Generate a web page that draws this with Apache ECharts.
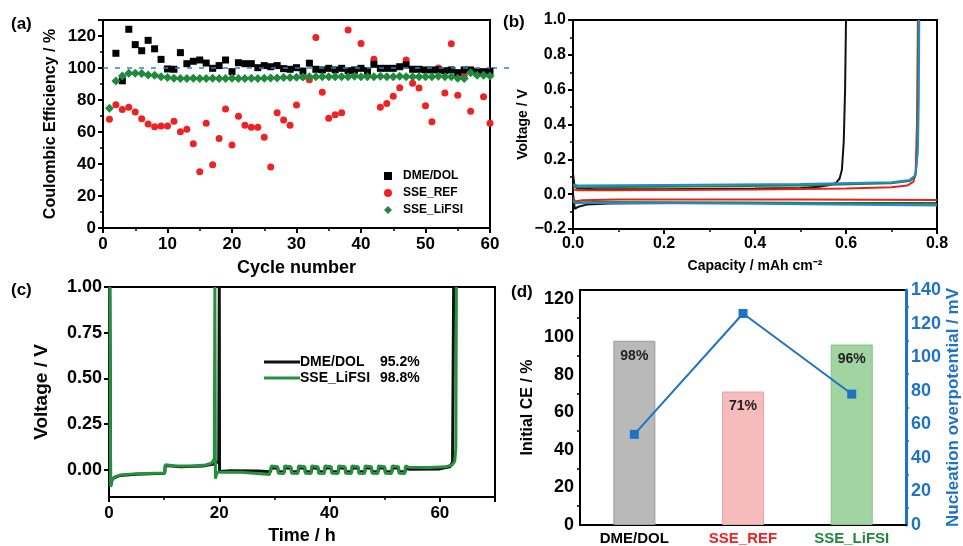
<!DOCTYPE html>
<html>
<head>
<meta charset="utf-8">
<script src="https://cdn.jsdelivr.net/npm/echarts@6/dist/echarts.min.js"></script>
<style>
  html, body { margin: 0; padding: 0; background: #fff; }
  #chart { width: 963px; height: 546px; }
</style>
</head>
<body>
<div id="chart"></div>
<script>
// ---- (a) coulombic efficiency vs cycle number (cycle = index + 1)
var ceDME = [null, 109.2, 92, 124.2, 114.6, 110.8, 117.3, 112, 105.4, 99.4,
  99.2, 109.6, 102.7, 104.2, 105, 103.1, 99.8, 101.5, 105, 97.7,
  103.3, 102.7, 102.7, 100.2, 101.5, 100.8, 101.5, 99.6, 99.2, 100.2,
  98.1, 103, 99.2, 98.8, 99.8, 98.8, 99.8, 98.3, 98.8, 99.8,
  98.3, 102.3, 99.8, 99.8, 99.8, 100.8, 101.9, 99.2, 99.2, 98.8,
  98.8, 98.8, 98.3, 98.8, 97.1, 98.8, 98.8, 97.7, 97.7, 98];
var ceREF = [68, 77, 74, 75.5, 72.5, 68.3, 65, 63.3, 63.8, 63.8,
  66.7, 60.2, 61.7, 52.7, 35.2, 65.4, 39.6, 56, 74.4, 51.9,
  69.8, 64.2, 62.9, 62.9, 56.7, 38.1, 72, 67.5, 64.2, 76.9,
  94.6, 92.7, 119, 84.8, 68.6, 70.8, 72, 123.8, 97, 115.3,
  96, 105.4, 75.4, 77.8, 82.4, 87.7, 105, 90.4, 87.5, 76.4,
  66.4, 100, 84.3, 115.2, 83, 95, 72.9, 97.9, 82, 65.4];
var ceLiFSI = [74.8, 91.9, 95, 96.7, 96.7, 96.5, 95.6, 95.4, 94.5, 94,
  93.6, 93.5, 93.5, 93.6, 93.5, 93.5, 93.6, 93.5, 93.5, 93.6,
  93.5, 93.5, 93.6, 93.5, 93.6, 93.8, 93.8, 94, 94, 94.2,
  94.4, 94.5, 94.5, 94.6, 94.5, 94.5, 94.6, 94.5, 94.8, 94.6,
  94.5, 94.6, 94.8, 94.6, 94.5, 94.8, 94.6, 94.5, 94.6, 94.5,
  94.6, 94.8, 94.6, 94.5, 93.6, 93.4, 97, 95.4, 95.5, 95];

// ---- (b) voltage vs capacity [capacity, voltage]
var bBlackStrip = [[0,0.12],[0.003,0.05],[0.01,0.032],[0.05,0.028],[0.2,0.028],[0.4,0.032],[0.5,0.036],[0.54,0.042],[0.565,0.052],[0.578,0.065],[0.586,0.09],[0.591,0.14],[0.595,0.3],[0.598,0.6],[0.6,1.0]];
var bBlackPlate = [[0,0],[0.004,-0.085],[0.012,-0.072],[0.03,-0.06],[0.08,-0.053],[0.3,-0.05],[0.6,-0.05],[0.8,-0.052]];
var bRedStrip = [[0,0.03],[0.01,0.022],[0.1,0.022],[0.4,0.027],[0.6,0.033],[0.7,0.04],[0.735,0.05],[0.748,0.07],[0.753,0.12],[0.756,0.4],[0.758,1.0]];
var bRedPlate = [[0,-0.02],[0.005,-0.042],[0.02,-0.035],[0.1,-0.03],[0.5,-0.03],[0.8,-0.033]];
var bGreenStrip = [[0,0.045],[0.01,0.04],[0.2,0.042],[0.5,0.05],[0.7,0.062],[0.74,0.075],[0.752,0.1],[0.756,0.2],[0.758,0.5],[0.759,1.0]];
var bGreenPlate = [[0,-0.035],[0.005,-0.048],[0.05,-0.045],[0.4,-0.048],[0.8,-0.055]];
var bBlueStrip = [[0,0.055],[0.01,0.05],[0.2,0.052],[0.5,0.058],[0.7,0.068],[0.74,0.082],[0.753,0.11],[0.758,0.25],[0.76,0.55],[0.761,1.0]];
var bBluePlate = [[0,-0.04],[0.005,-0.052],[0.05,-0.05],[0.4,-0.055],[0.8,-0.065]];

// ---- (c) voltage vs time [h, V]
var cGreen = [[0.15,1.0],[0.3,-0.095],[0.5,-0.06],[1,-0.04],[2,-0.03],[5,-0.022],[10.1,-0.018],[10.2,0.026],[12,0.02],[15,0.02],[17.5,0.025],[18.6,0.035],[19.1,0.06],[19.2,1.0],[19.3,-0.05],[19.6,-0.015],[24,-0.015],[29.1,-0.027],
  [29.35,-0.025],[29.45,0.02],[30.6,0.016],[30.7,-0.02],
  [31.75,-0.022],[31.85,0.02],[33.0,0.016],[33.1,-0.02],
  [34.25,-0.022],[34.35,0.02],[35.5,0.016],[35.6,-0.02],
  [36.65,-0.022],[36.75,0.02],[37.9,0.016],[38.0,-0.02],
  [39.05,-0.022],[39.15,0.02],[40.3,0.016],[40.4,-0.02],
  [41.55,-0.022],[41.65,0.02],[42.8,0.016],[42.9,-0.02],
  [43.95,-0.022],[44.05,0.02],[45.2,0.016],[45.3,-0.02],
  [46.35,-0.022],[46.45,0.02],[47.6,0.016],[47.7,-0.02],
  [48.75,-0.022],[48.85,0.02],[50.0,0.016],[50.1,-0.02],
  [51.25,-0.022],[51.35,0.02],[52.5,0.016],[52.6,-0.02],
  [53.65,-0.022],[53.75,0.02],[54.3,0.013],[58,0.012],[61,0.015],[62.2,0.025],[62.7,0.045],[62.9,0.12],[63.0,1.0]];
var cBlack = [[0.15,1.0],[0.3,-0.09],[0.6,-0.05],[2,-0.032],[5,-0.025],[10.1,-0.02],[10.2,0.022],[13,0.016],[17,0.02],[19,0.03],[19.9,0.045],[20.0,1.0],[20.05,-0.01],[22,-0.006],[27,-0.008],[29.3,-0.012],
  [29.4,0.01],[30.6,0.008],[30.7,-0.012],[31.8,-0.012],[31.9,0.01],[33.0,0.008],[33.1,-0.012],
  [34.3,-0.012],[34.4,0.01],[35.5,0.008],[35.6,-0.012],[36.7,-0.012],[36.8,0.01],[37.9,0.008],[38.0,-0.012],
  [39.1,-0.012],[39.2,0.01],[40.3,0.008],[40.4,-0.012],[41.6,-0.012],[41.7,0.01],[42.8,0.008],[42.9,-0.012],
  [44.0,-0.012],[44.1,0.01],[45.2,0.008],[45.3,-0.012],[46.4,-0.012],[46.5,0.01],[47.6,0.008],[47.7,-0.012],
  [48.8,-0.012],[48.9,0.01],[50.0,0.008],[50.1,-0.012],[51.3,-0.012],[51.4,0.01],[52.5,0.008],[52.6,-0.012],
  [53.7,-0.012],[53.8,0.008],[54.5,0.002],[60,0.004],[61.8,0.015],[62.3,0.04],[62.5,1.0]];

// ---- (d) initial CE bars and nucleation overpotential line
var dCats = ['DME/DOL', 'SSE_REF', 'SSE_LiFSI'];
var dInitCE = [98, 71, 96];
var dNucleation = [54, 126, 78];

var FONT = '"Liberation Sans", Arial, sans-serif';
var BLACK = '#000', RED = '#ee2222', GREEN = '#1f8a3c', BLUE = '#1f73c4';

function axisLine(color, w) { return { show: true, onZero: false, lineStyle: { color: color || BLACK, width: w || 2 } }; }
function lbl(size, extra) {
  var o = { color: BLACK, fontFamily: FONT, fontWeight: 'bold', fontSize: size };
  for (var k in extra) o[k] = extra[k];
  return o;
}
function nameStyle(size, color) { return { color: color || BLACK, fontFamily: FONT, fontWeight: 'bold', fontSize: size }; }

var chart = echarts.init(document.getElementById('chart'));

var option = {
  animation: false,
  backgroundColor: '#fff',
  grid: [
    { left: 103, top: 20, width: 387, height: 208, show: true, borderColor: BLACK, borderWidth: 2 },
    { left: 573, top: 20, width: 364, height: 209, show: true, borderColor: BLACK, borderWidth: 2 },
    { left: 109, top: 287, width: 386, height: 210, show: true, borderColor: BLACK, borderWidth: 2 },
    { left: 580, top: 290, width: 327, height: 236, show: true, borderColor: BLACK, borderWidth: 2 }
  ],
  xAxis: [
    { gridIndex: 0, type: 'value', min: 0, max: 60, interval: 10,
      axisLine: axisLine(), axisTick: { length: 5, lineStyle: { width: 2 } },
      minorTick: { show: true, splitNumber: 2, length: 3, lineStyle: { color: BLACK, width: 1.5 } },
      splitLine: { show: false }, axisLabel: lbl(17, { margin: 8 }),
      name: 'Cycle number', nameLocation: 'middle', nameGap: 31, nameTextStyle: nameStyle(18) },
    { gridIndex: 1, type: 'value', min: 0, max: 0.8, interval: 0.2,
      axisLine: axisLine(), axisTick: { length: 5, lineStyle: { width: 2 } },
      minorTick: { show: true, splitNumber: 2, length: 3, lineStyle: { color: BLACK, width: 1.5 } },
      splitLine: { show: false },
      axisLabel: lbl(16, { margin: 7, formatter: function (v) { return v.toFixed(1); } }),
      name: 'Capacity / mAh cm⁻²', nameLocation: 'middle', nameGap: 30, nameTextStyle: nameStyle(14) },
    { gridIndex: 2, type: 'value', min: 0, max: 70, interval: 20,
      axisLine: axisLine(), axisTick: { length: 5, lineStyle: { width: 2 } },
      minorTick: { show: true, splitNumber: 2, length: 3, lineStyle: { color: BLACK, width: 1.5 } },
      splitLine: { show: false }, axisLabel: lbl(17, { margin: 8, showMaxLabel: false }),
      name: 'Time / h', nameLocation: 'middle', nameGap: 30, nameTextStyle: nameStyle(18) },
    { gridIndex: 3, type: 'category', data: dCats, boundaryGap: true,
      axisLine: axisLine(), axisTick: { show: false }, splitLine: { show: false },
      axisLabel: { interval: 0, margin: 6, fontFamily: FONT, fontWeight: 'bold', fontSize: 15,
        formatter: function (v, i) { return '{c' + i + '|' + v + '}'; },
        rich: { c0: { color: BLACK, fontFamily: FONT, fontWeight: 'bold', fontSize: 15 },
                c1: { color: RED, fontFamily: FONT, fontWeight: 'bold', fontSize: 15 },
                c2: { color: GREEN, fontFamily: FONT, fontWeight: 'bold', fontSize: 15 } } } }
  ],
  yAxis: [
    { gridIndex: 0, type: 'value', min: 0, max: 130, interval: 20,
      axisLine: axisLine(), axisTick: { length: 5, lineStyle: { width: 2 } },
      minorTick: { show: true, splitNumber: 2, length: 3, lineStyle: { color: BLACK, width: 1.5 } },
      splitLine: { show: false }, axisLabel: lbl(17, { margin: 7, showMaxLabel: false }),
      name: 'Coulombic Efficiency / %', nameLocation: 'middle', nameGap: 44, nameTextStyle: nameStyle(16) },
    { gridIndex: 1, type: 'value', min: -0.2, max: 1.0, interval: 0.2,
      axisLine: axisLine(), axisTick: { length: 5, lineStyle: { width: 2 } },
      minorTick: { show: true, splitNumber: 2, length: 3, lineStyle: { color: BLACK, width: 1.5 } },
      splitLine: { show: false },
      axisLabel: lbl(16, { margin: 7, formatter: function (v) { return v.toFixed(1).replace('-', '\u2212'); } }),
      name: 'Voltage / V', nameLocation: 'middle', nameGap: 42, nameTextStyle: nameStyle(14) },
    { gridIndex: 2, type: 'value', min: -0.15, max: 1.0,
      axisLine: axisLine(), axisTick: { length: 5, lineStyle: { width: 2 }, customValues: [0, 0.25, 0.5, 0.75, 1] },
      splitLine: { show: false },
      axisLabel: lbl(18, { margin: 7, customValues: [0, 0.25, 0.5, 0.75, 1], formatter: function (v) { return v.toFixed(2); } }),
      name: 'Voltage / V', nameLocation: 'middle', nameGap: 58, nameTextStyle: nameStyle(19) },
    { gridIndex: 3, type: 'value', min: 0, max: 125, interval: 20,
      axisLine: axisLine(), axisTick: { length: 5, lineStyle: { width: 2 } },
      minorTick: { show: true, splitNumber: 2, length: 3, lineStyle: { color: BLACK, width: 1.5 } },
      splitLine: { show: false }, axisLabel: lbl(18, { margin: 6, showMaxLabel: false }),
      name: 'Initial CE / %', nameLocation: 'middle', nameGap: 44, nameTextStyle: nameStyle(16) },
    { gridIndex: 3, type: 'value', position: 'right', min: 0, max: 140, interval: 20,
      axisLine: axisLine(BLUE, 3), axisTick: { length: 5, lineStyle: { width: 2, color: BLUE } },
      minorTick: { show: true, splitNumber: 2, length: 3, lineStyle: { color: BLUE, width: 1.5 } },
      splitLine: { show: false }, axisLabel: lbl(18, { margin: 5, color: BLUE }),
      name: 'Nucleation overpotential / mV', nameLocation: 'middle', nameGap: 34, nameTextStyle: nameStyle(17, BLUE) }
  ],
  legend: [
    { orient: 'vertical', left: 379, top: 165, itemGap: 5, itemWidth: 8, itemHeight: 8,
      textStyle: { fontFamily: FONT, fontWeight: 'bold', fontSize: 12, color: BLACK, padding: [0, 0, 0, 6] },
      data: [{ name: 'DME/DOL', icon: 'rect' }, { name: 'SSE_REF', icon: 'circle' }, { name: 'SSE_LiFSI', icon: 'diamond' }] },
    { orient: 'vertical', left: 259, top: 350, itemGap: 2, itemWidth: 36, itemHeight: 3, icon: 'rect',
      formatter: function (n) { var p = n.split(' '); return '{a|' + p[0] + '}{b|' + p[1] + '}'; },
      textStyle: { fontFamily: FONT, fontWeight: 'bold', fontSize: 14, color: BLACK, padding: [0, 0, 0, -5],
        rich: { a: { width: 80, fontFamily: FONT, fontWeight: 'bold', fontSize: 14 }, b: { fontFamily: FONT, fontWeight: 'bold', fontSize: 14 } } },
      data: ['DME/DOL 95.2%', 'SSE_LiFSI 98.8%'] }
  ],
  series: [
    // (a)
    { name: 'DME/DOL', type: 'scatter', xAxisIndex: 0, yAxisIndex: 0, symbol: 'rect', symbolSize: 7,
      itemStyle: { color: BLACK, opacity: 1 }, z: 3,
      data: ceDME.map(function (v, i) { return [i + 1, v]; }),
      markLine: { silent: true, symbol: 'none', label: { show: false },
        lineStyle: { color: '#2b82d4', type: [5, 7], width: 1.5 }, data: [{ yAxis: 100 }] } },
    { name: 'SSE_REF', type: 'scatter', xAxisIndex: 0, yAxisIndex: 0, symbol: 'circle', symbolSize: 7,
      itemStyle: { color: RED, opacity: 1 }, z: 2,
      data: ceREF.map(function (v, i) { return [i + 1, v]; }) },
    { name: 'SSE_LiFSI', type: 'scatter', xAxisIndex: 0, yAxisIndex: 0, symbol: 'diamond', symbolSize: 9,
      itemStyle: { color: GREEN, opacity: 1 }, z: 4,
      data: ceLiFSI.map(function (v, i) { return [i + 1, v]; }) },
    // (b)
    { name: 'b1', type: 'line', xAxisIndex: 1, yAxisIndex: 1, data: bBlackPlate, showSymbol: false, lineStyle: { color: '#111', width: 2 } },
    { name: 'b2', type: 'line', xAxisIndex: 1, yAxisIndex: 1, data: bBlackStrip, showSymbol: false, lineStyle: { color: '#111', width: 2 } },
    { name: 'b3', type: 'line', xAxisIndex: 1, yAxisIndex: 1, data: bRedPlate, showSymbol: false, lineStyle: { color: '#e8201f', width: 2 } },
    { name: 'b4', type: 'line', xAxisIndex: 1, yAxisIndex: 1, data: bRedStrip, showSymbol: false, lineStyle: { color: '#e8201f', width: 2 } },
    { name: 'b5', type: 'line', xAxisIndex: 1, yAxisIndex: 1, data: bGreenPlate, showSymbol: false, lineStyle: { color: '#1c8a3a', width: 2 } },
    { name: 'b6', type: 'line', xAxisIndex: 1, yAxisIndex: 1, data: bGreenStrip, showSymbol: false, lineStyle: { color: '#1c8a3a', width: 2 } },
    { name: 'b7', type: 'line', xAxisIndex: 1, yAxisIndex: 1, data: bBluePlate, showSymbol: false, lineStyle: { color: '#2a86cf', width: 2 } },
    { name: 'b8', type: 'line', xAxisIndex: 1, yAxisIndex: 1, data: bBlueStrip, showSymbol: false, lineStyle: { color: '#2a86cf', width: 2 } },
    // (c)
    { name: 'DME/DOL 95.2%', type: 'line', xAxisIndex: 2, yAxisIndex: 2, data: cBlack, showSymbol: false,
      itemStyle: { color: '#111' }, lineStyle: { color: '#111', width: 3 } },
    { name: 'SSE_LiFSI 98.8%', type: 'line', xAxisIndex: 2, yAxisIndex: 2, data: cGreen, showSymbol: false,
      itemStyle: { color: '#23913f' }, lineStyle: { color: '#23913f', width: 3 } },
    // (d)
    { name: 'Initial CE', type: 'bar', xAxisIndex: 3, yAxisIndex: 3, barWidth: 42,
      data: [
        { value: dInitCE[0], itemStyle: { color: '#b9b9b9', borderColor: '#9a9a9a', borderWidth: 1 } },
        { value: dInitCE[1], itemStyle: { color: '#f6bcbc', borderColor: '#e9a3a3', borderWidth: 1 } },
        { value: dInitCE[2], itemStyle: { color: '#a2d4a2', borderColor: '#84c084', borderWidth: 1 } }
      ],
      label: { show: true, position: 'insideTop', distance: 8, formatter: '{c}%',
        fontFamily: FONT, fontWeight: 'bold', fontSize: 14, color: '#222' } },
    { name: 'Nucleation', type: 'line', xAxisIndex: 3, yAxisIndex: 4, data: dNucleation,
      symbol: 'rect', symbolSize: 9, itemStyle: { color: BLUE }, lineStyle: { color: BLUE, width: 2 } }
  ],
  graphic: [
    { type: 'text', left: 11, top: 16, style: { text: '(a)', font: 'bold 17px ' + FONT, fill: BLACK } },
    { type: 'text', left: 503, top: 14, style: { text: '(b)', font: 'bold 17px ' + FONT, fill: BLACK } },
    { type: 'text', left: 11, top: 282, style: { text: '(c)', font: 'bold 17px ' + FONT, fill: BLACK } },
    { type: 'text', left: 511, top: 284, style: { text: '(d)', font: 'bold 17px ' + FONT, fill: BLACK } },
    { type: 'line', shape: { x1: 492, y1: 68, x2: 516, y2: 68 },
      style: { stroke: '#2b82d4', lineWidth: 1.5, lineDash: [5, 7] } }
  ]
};

chart.setOption(option);
</script>
</body>
</html>
